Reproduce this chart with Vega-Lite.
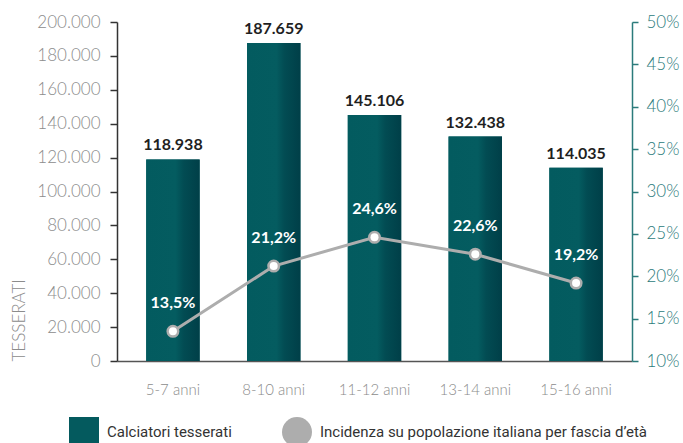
{
  "$schema": "https://vega.github.io/schema/vega-lite/v6.json",
  "width": 515,
  "height": 339,
  "autosize": {"type": "none"},
  "padding": {"left": 117, "top": 22, "right": 51, "bottom": 82},
  "config": {
    "locale": {"number": {"decimal": ",", "thousands": ".", "grouping": [3], "currency": ["€", ""]}},
    "view": {"stroke": null},
    "font": "Lato"
  },
  "data": {
    "values": [
      {"fascia": "5-7 anni", "tesserati": 118938, "incidenza": 0.135},
      {"fascia": "8-10 anni", "tesserati": 187659, "incidenza": 0.212},
      {"fascia": "11-12 anni", "tesserati": 145106, "incidenza": 0.246},
      {"fascia": "13-14 anni", "tesserati": 132438, "incidenza": 0.226},
      {"fascia": "15-16 anni", "tesserati": 114035, "incidenza": 0.192}
    ]
  },
  "encoding": {
    "x": {
      "field": "fascia",
      "type": "nominal",
      "sort": null,
      "scale": {"paddingInner": 0.47, "paddingOuter": 0.29},
      "axis": {
        "title": null,
        "labelAngle": 0,
        "ticks": false,
        "tickSize": 0,
        "labelPadding": 21,
        "labelFont": "Lato",
        "labelFontWeight": 300,
        "labelFontSize": 15,
        "labelColor": "#8c8c8c",
        "domainColor": "#555555",
        "domainWidth": 1.5
      }
    }
  },
  "layer": [
    {
      "encoding": {
        "y": {
          "field": "tesserati",
          "type": "quantitative",
          "scale": {"domain": [0, 200000]},
          "axis": {
            "values": [0, 20000, 40000, 60000, 80000, 100000, 120000, 140000, 160000, 180000, 200000],
            "format": ",.0f",
            "grid": false,
            "domainColor": "#333333",
            "domainWidth": 1.5,
            "tickColor": "#333333",
            "tickSize": 7,
            "tickWidth": 1.5,
            "labelPadding": 10,
            "labelFont": "Lato",
            "labelFontWeight": 300,
            "labelFontSize": 17,
            "labelColor": "#8c8c8c",
            "title": "TESSERATI",
            "titleFont": "Lato",
            "titleFontWeight": 300,
            "titleFontSize": 17,
            "titleColor": "#8c8c8c",
            "titleAnchor": "start",
            "titlePadding": 8
          }
        }
      },
      "layer": [
        {
          "mark": {"type": "bar"},
          "encoding": {
            "color": {
              "datum": "Calciatori tesserati",
              "type": "nominal",
              "scale": {
                "domain": ["Calciatori tesserati", "Incidenza su popolazione italiana per fascia d’età"],
                "range": ["#045a5e", "#adadad"]
              },
              "legend": {
                "orient": "none",
                "legendX": -48,
                "legendY": 395,
                "direction": "horizontal",
                "title": null,
                "symbolSize": 900,
                "symbolStrokeWidth": 0,
                "labelFont": "Roboto",
                "labelFontSize": 15,
                "labelColor": "#333333",
                "labelOffset": 8,
                "labelLimit": 600,
                "columnPadding": 50,
                "encode": {
                  "symbols": {
                    "update": {
                      "shape": {"signal": "datum.value === 'Calciatori tesserati' ? 'square' : 'circle'"},
                      "opacity": {"value": 1},
                      "fillOpacity": {"value": 1}
                    }
                  }
                }
              }
            }
          }
        },
        {
          "mark": {
            "type": "bar",
            "color": {
              "gradient": "linear",
              "x1": 0, "y1": 0, "x2": 1, "y2": 0,
              "stops": [
                {"offset": 0, "color": "#035b5f"},
                {"offset": 0.55, "color": "#045c60"},
                {"offset": 0.7, "color": "#024c53"},
                {"offset": 1, "color": "#003f48"}
              ]
            }
          },
          "encoding": {}
        },
        {
          "mark": {"type": "text", "baseline": "alphabetic", "dy": -9, "fontWeight": "bold", "fontSize": 16, "color": "#1f1f1f", "font": "Lato"},
          "encoding": {
            "text": {"field": "tesserati", "type": "quantitative", "format": ",.0f"}
          }
        }
      ]
    },
    {
      "encoding": {
        "y": {
          "field": "incidenza",
          "type": "quantitative",
          "scale": {"domain": [0.1, 0.5]},
          "axis": {
            "orient": "right",
            "values": [0.1, 0.15, 0.2, 0.25, 0.3, 0.35, 0.4, 0.45, 0.5],
            "format": ".0%",
            "grid": false,
            "domainColor": "#2b7b7b",
            "domainWidth": 1.5,
            "tickColor": "#2b7b7b",
            "tickSize": 6,
            "tickWidth": 1.5,
            "labelPadding": 8,
            "labelFont": "Lato",
            "labelFontWeight": 300,
            "labelFontSize": 17,
            "labelColor": "#2b7b7b",
            "title": null
          }
        }
      },
      "layer": [
        {"mark": {"type": "line", "color": "#adadad", "strokeWidth": 3}, "encoding": {}},
        {
          "mark": {"type": "point", "filled": true, "size": 170, "opacity": 1},
          "encoding": {
            "color": {"datum": "Incidenza su popolazione italiana per fascia d’età", "type": "nominal"}
          }
        },
        {"mark": {"type": "point", "filled": true, "size": 64, "opacity": 1, "color": "#ffffff"}, "encoding": {}},
        {
          "mark": {"type": "text", "baseline": "middle", "dy": -28, "fontWeight": "bold", "fontSize": 16, "color": "#ffffff", "font": "Lato"},
          "encoding": {
            "text": {"field": "incidenza", "type": "quantitative", "format": ".1%"}
          }
        }
      ]
    }
  ],
  "resolve": {"scale": {"y": "independent"}}
}
